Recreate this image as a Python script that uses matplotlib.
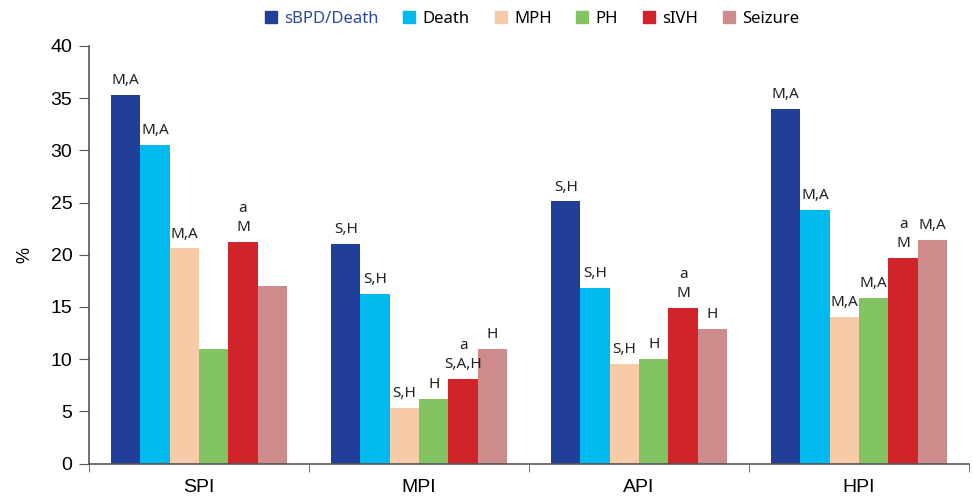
import matplotlib.pyplot as plt
from matplotlib.lines import Line2D
import numpy as np

# ---------------------------------------------------------
# DATA
# ---------------------------------------------------------
categories = ["SPI", "MPI", "API", "HPI"]
series_names = ["sBPD/Death", "Death", "MPH", "PH", "sIVH", "Seizure"]
colors = ["#213f99", "#00b9ef", "#f7cba8", "#82c462", "#d1232a", "#cd8b8b"]

sbpd_death = [35.3, 21.0, 25.1, 34.0]
death = [30.5, 16.2, 16.8, 24.3]
mph = [20.6, 5.3, 9.5, 14.0]
ph = [11.0, 6.2, 10.0, 15.9]
sivh = [21.2, 8.1, 14.9, 19.7]
seizure = [17.0, 11.0, 12.9, 21.4]

# chữ ký hiệu trên đầu cột (theo từng series)
lab_sbpd = ["M,A", "S,H", "S,H", "M,A"]
lab_death = ["M,A", "S,H", "S,H", "M,A"]
lab_mph = ["M,A", "S,H", "S,H", "M,A"]
lab_ph = ["", "H", "H", "M,A"]
lab_sivh = ["a\nM", "a\nS,A,H", "a\nM", "a\nM"]
lab_seizure = ["", "H", "H", "M,A"]

values = [sbpd_death, death, mph, ph, sivh, seizure]
labels = [lab_sbpd, lab_death, lab_mph, lab_ph, lab_sivh, lab_seizure]

# ---------------------------------------------------------
# PLOT
# ---------------------------------------------------------
fig = plt.figure(figsize=(9.73, 4.99), dpi=100)
ax = fig.add_axes([0.0915, 0.071, 0.9045, 0.837])

x = np.arange(len(categories))
width = 0.8 / len(series_names)

for i, (vals, labs) in enumerate(zip(values, labels)):
    pos = x - 0.4 + width * (i + 0.5)
    ax.bar(pos, vals, width=width, color=colors[i], linewidth=0)
    for px, v, t in zip(pos, vals, labs):
        if t:
            ax.annotate(t, (px, v), xytext=(0, 5), textcoords="offset points",
                        ha="center", va="bottom", fontsize=11,
                        linespacing=1.4, family="Noto Sans", color="#222222")

ax.set_xlim(-0.5, 3.5)
ax.set_ylim(0, 40)
ax.set_yticks(range(0, 41, 5))
ax.tick_params(axis="y", labelsize=14, length=7, color="#555555", pad=5)
for t in ax.get_yticklabels():
    t.set_family("Liberation Sans")

ax.set_xticks(x)
ax.set_xticklabels(categories, fontsize=14, family="Liberation Sans")
ax.set_xticks(np.arange(-0.5, 3.6, 1), minor=True)
ax.tick_params(axis="x", which="major", length=0, pad=11)
ax.tick_params(axis="x", which="minor", length=6, color="#555555")

ax.set_ylabel("%", fontsize=13, family="Liberation Sans", labelpad=12)

for s in ["top", "right"]:
    ax.spines[s].set_visible(False)
for s in ["left", "bottom"]:
    ax.spines[s].set_color("#555555")
    ax.spines[s].set_linewidth(1.2)

handles = [Line2D([], [], marker="s", linestyle="none", markersize=9,
                  markerfacecolor=c, markeredgecolor=c) for c in colors]
leg = fig.legend(handles, series_names, loc="center", ncol=6,
                 bbox_to_anchor=(531 / 973, 0.962), frameon=False,
                 prop={"family": "Noto Sans", "size": 12},
                 handletextpad=0.3, columnspacing=1.35, handlelength=1.0)
leg.get_texts()[0].set_color("#2a4aa0")

plt.savefig("out.png", dpi=100)
plt.close()
